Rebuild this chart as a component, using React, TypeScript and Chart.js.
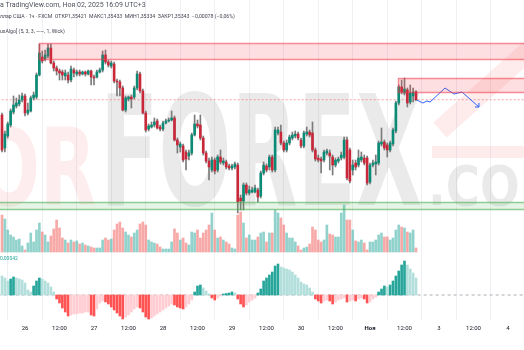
import React, { useEffect, useRef } from 'react';
import { Chart, registerables } from 'chart.js';

Chart.register(...registerables);

// ---- data (hourly candles, hour index relative to Oct 26 00:00) ----
const START_HOUR = -8;

const OPEN = [
  1.3519, 1.3486, 1.3498, 1.3509, 1.3522, 1.3528, 1.3530, 1.3534, 1.3538, 1.3521,
  1.3523, 1.3536, 1.3537, 1.3559, 1.3577, 1.3575, 1.3578, 1.3586, 1.3571, 1.3566,
  1.3563, 1.3562, 1.3558, 1.3559, 1.3554, 1.3564, 1.3560, 1.3562, 1.3560, 1.3562,
  1.3560, 1.3563, 1.3557, 1.3557, 1.3562, 1.3564, 1.3579, 1.3572, 1.3568, 1.3570,
  1.3553, 1.3552, 1.3546, 1.3524, 1.3535, 1.3537, 1.3537, 1.3546, 1.3560, 1.3543,
  1.3521, 1.3505, 1.3507, 1.3509, 1.3513, 1.3507, 1.3505, 1.3511, 1.3513, 1.3514,
  1.3516, 1.3494, 1.3487, 1.3488, 1.3482, 1.3478, 1.3481, 1.3499, 1.3510, 1.3509,
  1.3496, 1.3481, 1.3473, 1.3464, 1.3474, 1.3464, 1.3477, 1.3471, 1.3472, 1.3468,
  1.3466, 1.3467, 1.3469, 1.3436, 1.3433, 1.3449, 1.3441, 1.3442, 1.3442, 1.3444,
  1.3438, 1.3461, 1.3468, 1.3467, 1.3477, 1.3464, 1.3501, 1.3502, 1.3491, 1.3484,
  1.3491, 1.3496, 1.3498, 1.3500, 1.3494, 1.3488, 1.3500, 1.3502, 1.3501, 1.3484,
  1.3476, 1.3475, 1.3474, 1.3481, 1.3481, 1.3477, 1.3469, 1.3473, 1.3476, 1.3477,
  1.3494, 1.3484, 1.3464, 1.3471, 1.3469, 1.3474, 1.3476, 1.3476, 1.3452, 1.3469,
  1.3470, 1.3471, 1.3490, 1.3492, 1.3489, 1.3484, 1.3490, 1.3503, 1.3531, 1.3547,
  1.3541, 1.3544, 1.3532, 1.3538, 1.35421,
];
const HIGH = [
  1.3521, 1.3503, 1.3512, 1.3525, 1.3538, 1.3536, 1.3539, 1.3541, 1.3540, 1.3531,
  1.3538, 1.3542, 1.3561, 1.3590, 1.3583, 1.3584, 1.3590, 1.3590, 1.3573, 1.3568,
  1.3565, 1.3564, 1.3564, 1.3562, 1.3568, 1.3566, 1.3564, 1.3564, 1.3563, 1.3563,
  1.3564, 1.3564, 1.3559, 1.3564, 1.3566, 1.3583, 1.3584, 1.3574, 1.3573, 1.3572,
  1.3555, 1.3554, 1.3548, 1.3538, 1.3538, 1.3539, 1.3548, 1.3563, 1.3562, 1.3545,
  1.3523, 1.3510, 1.3512, 1.3516, 1.3515, 1.3509, 1.3513, 1.3515, 1.3516, 1.3523,
  1.3518, 1.3496, 1.3492, 1.3490, 1.3484, 1.3484, 1.3501, 1.3519, 1.3514, 1.3519,
  1.3498, 1.3483, 1.3476, 1.3477, 1.3476, 1.3479, 1.3484, 1.3476, 1.3474, 1.3470,
  1.3470, 1.3472, 1.3471, 1.3439, 1.3451, 1.3451, 1.3448, 1.3447, 1.3449, 1.3446,
  1.3463, 1.3472, 1.3470, 1.3479, 1.3479, 1.3507, 1.3507, 1.3509, 1.3493, 1.3494,
  1.3499, 1.3502, 1.3503, 1.3502, 1.3496, 1.3503, 1.3507, 1.3504, 1.3512, 1.3486,
  1.3479, 1.3477, 1.3484, 1.3485, 1.3484, 1.3479, 1.3476, 1.3477, 1.3482, 1.3497,
  1.3497, 1.3486, 1.3474, 1.3474, 1.3484, 1.3482, 1.3479, 1.3478, 1.3471, 1.3474,
  1.3479, 1.3493, 1.3506, 1.3494, 1.3491, 1.3493, 1.3506, 1.3533, 1.3549, 1.3554,
  1.3556, 1.3546, 1.3549, 1.3546, 1.35433,
];
const LOW = [
  1.3482, 1.3482, 1.3496, 1.3507, 1.3520, 1.3526, 1.3528, 1.3532, 1.3518, 1.3519,
  1.3522, 1.3534, 1.3535, 1.3558, 1.3571, 1.3573, 1.3576, 1.3570, 1.3563, 1.3559,
  1.3554, 1.3554, 1.3554, 1.3551, 1.3552, 1.3557, 1.3558, 1.3558, 1.3559, 1.3558,
  1.3559, 1.3549, 1.3549, 1.3556, 1.3561, 1.3562, 1.3570, 1.3567, 1.3566, 1.3551,
  1.3538, 1.3538, 1.3523, 1.3522, 1.3533, 1.3526, 1.3535, 1.3544, 1.3541, 1.3520,
  1.3502, 1.3503, 1.3506, 1.3507, 1.3505, 1.3503, 1.3503, 1.3510, 1.3512, 1.3513,
  1.3493, 1.3481, 1.3482, 1.3472, 1.3464, 1.3474, 1.3479, 1.3498, 1.3506, 1.3494,
  1.3479, 1.3471, 1.3454, 1.3462, 1.3460, 1.3462, 1.3470, 1.3469, 1.3465, 1.3464,
  1.3464, 1.3465, 1.3421, 1.3424, 1.3424, 1.3439, 1.3439, 1.3441, 1.3441, 1.3432,
  1.3436, 1.3459, 1.3462, 1.3464, 1.3462, 1.3462, 1.3499, 1.3489, 1.3482, 1.3482,
  1.3489, 1.3494, 1.3496, 1.3494, 1.3486, 1.3486, 1.3498, 1.3497, 1.3482, 1.3473,
  1.3472, 1.3461, 1.3472, 1.3479, 1.3464, 1.3459, 1.3467, 1.3471, 1.3474, 1.3475,
  1.3454, 1.3451, 1.3459, 1.3464, 1.3467, 1.3472, 1.3469, 1.3449, 1.3450, 1.3467,
  1.3459, 1.3469, 1.3488, 1.3484, 1.3477, 1.3482, 1.3488, 1.3501, 1.3529, 1.3540,
  1.3539, 1.3527, 1.3530, 1.3532, 1.35334,
];
const CLOSE = [
  1.3484, 1.3500, 1.3510, 1.3523, 1.3529, 1.3531, 1.3534, 1.3538, 1.3521, 1.3524,
  1.3536, 1.3539, 1.3559, 1.3581, 1.3573, 1.3579, 1.3586, 1.3571, 1.3566, 1.3563,
  1.3561, 1.3559, 1.3561, 1.3554, 1.3565, 1.3561, 1.3562, 1.3560, 1.3562, 1.3560,
  1.3563, 1.3557, 1.3556, 1.3562, 1.3564, 1.3579, 1.3572, 1.3569, 1.3571, 1.3553,
  1.3552, 1.3546, 1.3524, 1.3536, 1.3537, 1.3535, 1.3546, 1.3560, 1.3543, 1.3521,
  1.3504, 1.3508, 1.3509, 1.3512, 1.3506, 1.3505, 1.3511, 1.3513, 1.3514, 1.3516,
  1.3494, 1.3489, 1.3490, 1.3474, 1.3475, 1.3481, 1.3499, 1.3510, 1.3508, 1.3496,
  1.3481, 1.3473, 1.3467, 1.3474, 1.3463, 1.3477, 1.3472, 1.3473, 1.3467, 1.3466,
  1.3468, 1.3470, 1.3432, 1.3433, 1.3449, 1.3441, 1.3444, 1.3444, 1.3446, 1.3437,
  1.3461, 1.3469, 1.3464, 1.3477, 1.3464, 1.3504, 1.3504, 1.3491, 1.3484, 1.3491,
  1.3497, 1.3499, 1.3500, 1.3496, 1.3488, 1.3501, 1.3502, 1.3499, 1.3484, 1.3475,
  1.3474, 1.3473, 1.3482, 1.3483, 1.3478, 1.3469, 1.3474, 1.3475, 1.3479, 1.3494,
  1.3456, 1.3453, 1.3469, 1.3467, 1.3476, 1.3477, 1.3471, 1.3451, 1.3469, 1.3471,
  1.3472, 1.3491, 1.3492, 1.3486, 1.3484, 1.3491, 1.3504, 1.3531, 1.3547, 1.3542,
  1.3545, 1.3531, 1.3541, 1.3542, 1.35343,
];
const VOLUME = [
  3700, 3300, 2200, 1700, 1500, 1200, 1300, 600, 200, 900,
  1900, 1000, 2200, 2900, 2000, 1700, 1000, 1600, 2300, 3200,
  2400, 1400, 1200, 900, 1200, 1000, 1100, 800, 900, 700,
  600, 500, 400, 400, 400, 1200, 1400, 1200, 1300, 2200,
  2800, 3000, 2400, 2000, 1700, 1500, 1900, 2200, 2800, 3000,
  2700, 1200, 1000, 900, 800, 500, 300, 300, 300, 1000,
  2300, 1900, 1200, 1400, 900, 700, 2000, 1900, 2200, 1400,
  1900, 2200, 2700, 3900, 2200, 1400, 1500, 1200, 1000, 800,
  400, 300, 3700, 4000, 2900, 1400, 1700, 1200, 1200, 1500,
  1900, 2000, 1000, 1900, 1900, 4200, 3900, 3400, 2700, 1900,
  1400, 1400, 1000, 600, 200, 400, 500, 800, 2500, 2200,
  1200, 1000, 1200, 2700, 1800, 1700, 1500, 1500, 3900, 4700,
  3200, 3200, 2200, 1100, 1000, 1200, 900, 200, 1000, 1000,
  1200, 1700, 1900, 1500, 1500, 1200, 1400, 2200, 2700, 2500,
  2400, 2000, 1900, 2200, 400,
];
// oscillator histogram, in units of 0.00001
const OSC_X1E5 = [
  47.5, 42.5, 35, 40, 45, 42.5, 40, 37.5, 30, 12.5,
  7.5, 22.5, 35, 42.5, 40, 35, 30, 20, 7.5, -10,
  -20, -32.5, -42.5, -52.5, -50, -47.5, -47.5, -45, -45, -42.5,
  -42.5, -50, -52.5, -35, -20, -15, -17.5, -22.5, -30, -37.5,
  -45, -52.5, -60, -55, -50, -42.5, -35, -30, -32.5, -42.5,
  -55, -60, -57.5, -52.5, -47.5, -42.5, -37.5, -32.5, -27.5, -22.5,
  -25, -30, -32.5, -35, -30, -22.5, -12.5, 7.5, 22.5, 25,
  17.5, 10, 2.5, -7.5, -12.5, -7.5, -2.5, 2.5, 3.75, 5,
  7.5, 5, -10, -22.5, -30, -25, -17.5, -12.5, -7.5, 5,
  15, 35, 42.5, 50, 57.5, 72.5, 77.5, 70, 67.5, 65,
  62.5, 57.5, 50, 42.5, 32.5, 27.5, 25, 17.5, 7.5, -10,
  -15, -20, -15, -12.5, -15, -22.5, -17.5, -12.5, -10, -7.5,
  -17.5, -15, -12.5, -15, -10, -7.5, -10, -20, -17.5, -10,
  -5, 7.5, 15, 22.5, 20, 25, 35, 47.5, 60, 75,
  85, 75, 65, 55, 42.5,
];

const TICK_HOURS = [0, 12, 24, 36, 48, 60, 72, 84, 96, 108, 120, 132, 144, 156, 168];
const TICK_LABELS = ['26', '12:00', '27', '12:00', '28', '12:00', '29', '12:00', '30', '12:00', 'Ноя', '12:00', '3', '12:00', '4'];

const RES_ZONE_FROM = [4.87, 129.7];
const RES_ZONE_TOP = [1.3591, 1.3556];
const RES_ZONE_BOTTOM = [1.3575, 1.3542];
const SUP_ZONE_FROM = [-12];
const SUP_ZONE_TOP = [1.3432];
const SUP_ZONE_BOTTOM = [1.3425];

const LAST_PRICE = 1.35343;
const FORECAST_X = [136.3, 138.4, 139.8, 140.9, 146.1, 149.2, 152.0, 157.9];
const FORECAST_Y = [1.3534, 1.3531, 1.3533, 1.3532, 1.3546, 1.3540, 1.3542, 1.3527];
const ARROW_X = [156.5, 157.9, 157.9];
const ARROW_Y = [1.3527, 1.3527, 1.3531];

const X_MIN = -8.6957;
const X_MAX = 173.565;

const UP = '#0b8a75';
const DOWN = '#c8283a';

const zonesPlugin = {
  id: 'zones',
  afterDatasetsDraw(chart: any) {
    const { ctx, chartArea, scales } = chart;
    const x = scales.x, y = scales.y;
    ctx.save();
    ctx.beginPath();
    ctx.rect(chartArea.left, chartArea.top, chartArea.width, chartArea.height);
    ctx.clip();
    const draw = (from: number, top: number, bottom: number, fill: string, stroke: string) => {
      const x0 = Math.round(x.getPixelForValue(from)) + 0.5;
      const x1 = chartArea.right + 5;
      const y0 = Math.round(y.getPixelForValue(top)) + 0.5;
      const y1 = Math.round(y.getPixelForValue(bottom)) + 0.5;
      ctx.fillStyle = fill;
      ctx.fillRect(x0, y0, x1 - x0, y1 - y0);
      ctx.strokeStyle = stroke;
      ctx.lineWidth = 1.5;
      ctx.strokeRect(x0, y0, x1 - x0, y1 - y0);
    };
    RES_ZONE_FROM.forEach((f, i) =>
      draw(f, RES_ZONE_TOP[i], RES_ZONE_BOTTOM[i], 'rgba(242,54,69,0.16)', 'rgba(242,54,69,0.55)'));
    SUP_ZONE_FROM.forEach((f, i) =>
      draw(f, SUP_ZONE_TOP[i], SUP_ZONE_BOTTOM[i], 'rgba(76,175,80,0.14)', 'rgba(76,175,80,0.6)'));
    ctx.restore();
  },
};

const watermarkPlugin = {
  id: 'watermark',
  beforeDatasetsDraw(chart: any) {
    const { ctx } = chart;
    ctx.save();
    const fit = (text: string, left: number, right: number, baseline: number, cap: number, color: string) => {
      ctx.font = 'bold 100px "DejaVu Sans"';
      const m = ctx.measureText(text);
      const w = m.width;
      const capH = ctx.measureText('H').actualBoundingBoxAscent;
      ctx.save();
      ctx.translate(left, baseline);
      ctx.scale((right - left) / w, cap / capH);
      ctx.fillStyle = color;
      ctx.textBaseline = 'alphabetic';
      ctx.fillText(text, 0, 0);
      ctx.restore();
    };
    fit('OR', -22, 96, 205, 78, 'rgba(242,54,69,0.09)');
    fit('FOREX', 100, 422, 205, 112, 'rgba(20,20,20,0.09)');
    fit('.COM', 428, 566, 205, 40, 'rgba(20,20,20,0.09)');
    ctx.fillStyle = 'rgba(242,54,69,0.10)';
    ctx.fillRect(432, 146, 100, 12);
    ctx.strokeStyle = 'rgba(242,54,69,0.10)';
    ctx.lineWidth = 20;
    ctx.beginPath();
    ctx.moveTo(440, 130);
    ctx.lineTo(535, 45);
    ctx.stroke();
    ctx.restore();
  },
};

export default function App() {
  const ref = useRef<HTMLCanvasElement>(null);
  useEffect(() => {
    const hours = OPEN.map((_, i) => START_HOUR + i);
    const isUp = OPEN.map((o, i) => CLOSE[i] >= o);
    const oscColors = OSC_X1E5.map((v, i) => {
      const prev = i > 0 ? OSC_X1E5[i - 1] : v;
      if (v >= 0) return v > prev ? '#26a69a' : '#b2dfdb';
      return v < prev ? '#ff5252' : '#ffcdd2';
    });
    const chart = new Chart(ref.current as HTMLCanvasElement, {
      type: 'bar',
      data: {
        datasets: [
          {
            type: 'line',
            data: [{ x: X_MIN - 5, y: LAST_PRICE }, { x: X_MAX + 5, y: LAST_PRICE }],
            borderColor: 'rgba(242,54,69,0.45)',
            borderWidth: 1,
            borderDash: [2, 2],
            pointRadius: 0,
            yAxisID: 'y',
            order: 20,
          } as any,
          {
            type: 'line',
            data: [{ x: X_MIN - 5, y: 0 }, { x: X_MAX + 5, y: 0 }],
            borderColor: 'rgba(120,123,134,0.6)',
            borderWidth: 1,
            borderDash: [3, 3],
            pointRadius: 0,
            yAxisID: 'yo',
            order: 20,
          } as any,
          {
            data: hours.map((h, i) => ({ x: h, y: VOLUME[i] })),
            backgroundColor: isUp.map((u) => (u ? 'rgba(38,166,154,0.5)' : 'rgba(239,83,80,0.5)')),
            barThickness: 2,
            grouped: false,
            yAxisID: 'yv',
            order: 15,
          } as any,
          {
            data: hours.map((h, i) => ({ x: h, y: OSC_X1E5[i] })),
            backgroundColor: oscColors,
            barThickness: 2,
            grouped: false,
            yAxisID: 'yo',
            order: 14,
          } as any,
          {
            data: hours.map((h, i) => ({ x: h, y: [LOW[i], HIGH[i]] })),
            backgroundColor: '#7b7b7b',
            barThickness: 1,
            grouped: false,
            yAxisID: 'y',
            order: 10,
          } as any,
          {
            data: hours.map((h, i) => ({ x: h, y: [OPEN[i], CLOSE[i]] })),
            backgroundColor: isUp.map((u) => (u ? UP : DOWN)),
            barThickness: 2,
            grouped: false,
            yAxisID: 'y',
            order: 9,
          } as any,
          {
            type: 'line',
            data: FORECAST_X.map((x, i) => ({ x, y: FORECAST_Y[i] })),
            borderColor: '#2962ff',
            borderWidth: 1,
            pointRadius: 0,
            tension: 0,
            yAxisID: 'y',
            order: 1,
          } as any,
          {
            type: 'line',
            data: ARROW_X.map((x, i) => ({ x, y: ARROW_Y[i] })),
            borderColor: '#2962ff',
            borderWidth: 1,
            pointRadius: 0,
            yAxisID: 'y',
            order: 1,
          } as any,
        ],
      },
      options: {
        responsive: false,
        devicePixelRatio: 1,
        animation: false,
        layout: { padding: 0 },
        plugins: { legend: { display: false }, tooltip: { enabled: false } },
        scales: {
          x: {
            type: 'linear',
            min: X_MIN,
            max: X_MAX,
            offset: false,
            border: { display: false },
            grid: { color: '#eef0f4', drawTicks: false },
            afterBuildTicks: (s: any) => {
              s.ticks = TICK_HOURS.map((v) => ({ value: v }));
            },
            afterFit: (s: any) => {
              s.height = 30;
            },
            ticks: {
              autoSkip: false,
              maxRotation: 0,
              padding: 5,
              color: '#131722',
              font: (c: any) => ({
                family: 'Roboto',
                size: 6,
                weight: TICK_LABELS[TICK_HOURS.indexOf(c.tick?.value)] === 'Ноя' ? 'bold' : 'normal',
              }),
              callback: (v: any) => TICK_LABELS[TICK_HOURS.indexOf(Number(v))] ?? '',
            },
          },
          y: {
            type: 'linear',
            position: 'right',
            min: 1.3314,
            max: 1.3634,
            border: { display: false },
            grid: { display: false },
            ticks: { display: false },
            afterFit: (s: any) => {
              s.width = 0;
            },
          },
          yv: {
            type: 'linear',
            display: false,
            min: -6800,
            max: 25200,
          },
          yo: {
            type: 'linear',
            display: false,
            min: -62.5,
            max: 737.5,
          },
        },
      } as any,
      plugins: [watermarkPlugin, zonesPlugin],
    });
    return () => chart.destroy();
  }, []);

  const txt: React.CSSProperties = {
    position: 'absolute',
    left: 0,
    whiteSpace: 'nowrap',
    fontFamily: 'Roboto, sans-serif',
    color: '#434651',
    lineHeight: 1,
  };
  return (
    <div style={{ position: 'fixed', left: 0, top: 0, width: 524, height: 350, background: '#fff', overflow: 'hidden' }}>
      <canvas ref={ref} width={524} height={350} style={{ position: 'absolute', left: 0, top: 0, width: 524, height: 350 }} />
      <div style={{ ...txt, top: 2, fontSize: 7, color: '#50535e' }}>а TradingView.com, Ноя 02, 2025 16:09 UTC+3</div>
      <div style={{ ...txt, top: 14, fontSize: 5.2 }}>
        ллар США · 1ч · FXCM&nbsp; ОТКР1,35421&nbsp; МАКС1,35433&nbsp; МИН1,35334&nbsp; ЗАКР1,35343&nbsp; −0,00078 (−0,06%)
      </div>
      <div style={{ ...txt, top: 29, fontSize: 5.2 }}>uxAlgo] (5, 3, 3, ——, 1, Wick)</div>
      <div style={{ ...txt, top: 256, fontSize: 5, color: '#26a69a' }}>0,00042</div>
    </div>
  );
}
